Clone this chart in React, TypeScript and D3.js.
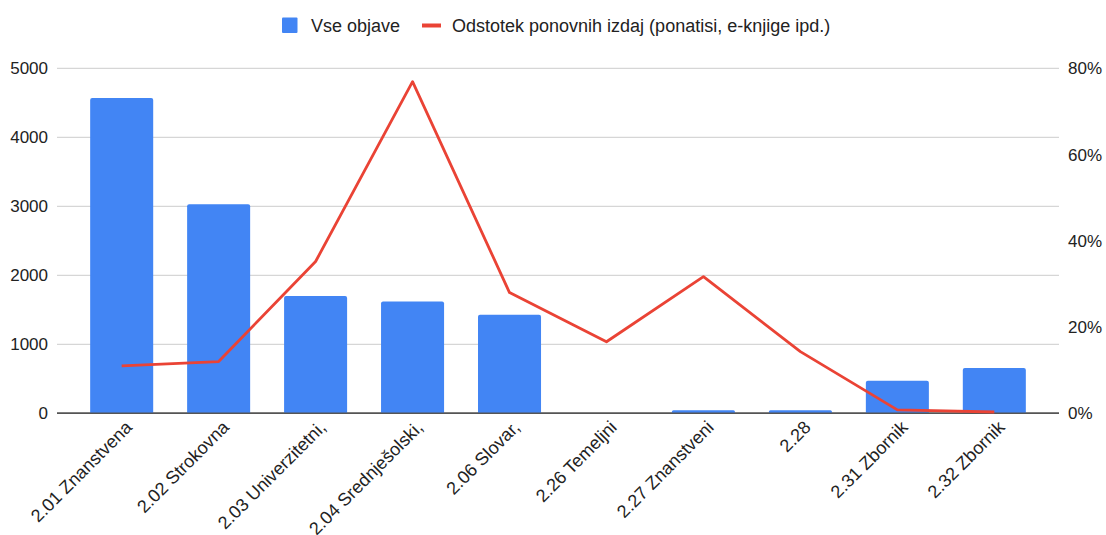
import React from "react";
import * as d3 from "d3";

const categories = [
  "2.01 Znanstvena",
  "2.02 Strokovna",
  "2.03 Univerzitetni,",
  "2.04 Srednješolski,",
  "2.06 Slovar,",
  "2.26 Temeljni",
  "2.27 Znanstveni",
  "2.28",
  "2.31 Zbornik",
  "2.32 Zbornik",
];
const allPublications = [4570, 3030, 1700, 1620, 1430, 0, 45, 45, 470, 655];
const reprintPercent = [11.0, 12.0, 35.2, 76.9, 28.0, 16.6, 31.7, 14.3, 0.8, 0.3];
const leftTicks = [0, 1000, 2000, 3000, 4000, 5000];
const rightTicks = [0, 20, 40, 60, 80];
const seriesNames = ["Vse objave", "Odstotek ponovnih izdaj (ponatisi, e-knjige ipd.)"];

const W = 1106;
const H = 535;
const BLUE = "#4285F4";
const RED = "#EA4335";
const FONT = "Arial, 'Liberation Sans', sans-serif";

export default function App() {
  const x = d3
    .scaleBand<string>()
    .domain(categories)
    .range([73.2, 1042.8])
    .paddingInner(0.35)
    .paddingOuter(0.175);
  const yL = d3.scaleLinear().domain([0, 5000]).range([413.3, 68.3]);
  const yR = d3.scaleLinear().domain([0, 80]).range([413.3, 68.3]);
  const gridX0 = 57;
  const gridX1 = 1059;

  const line = d3
    .line<number>()
    .x((_, i) => (x(categories[i]) as number) + x.bandwidth() / 2)
    .y((d) => yR(d));

  const barPath = (x0: number, w: number, yTop: number, yBot: number) => {
    const r = Math.min(2, (yBot - yTop) / 2);
    return `M${x0},${yBot}V${yTop + r}Q${x0},${yTop} ${x0 + r},${yTop}H${x0 + w - r}Q${x0 + w},${yTop} ${x0 + w},${yTop + r}V${yBot}Z`;
  };

  return (
    <svg
      width={W}
      height={H}
      style={{ position: "absolute", left: 0, top: 0, background: "#fff" }}
      fontFamily={FONT}
    >
      <rect width={W} height={H} fill="#fff" />
      {/* legend */}
      <rect x={282} y={17.5} width={15.5} height={15.5} fill={BLUE} rx={1} />
      <text x={311} y={25.5} dy="0.35em" fontSize={18} fill="#222">
        {seriesNames[0]}
      </text>
      <line x1={422} x2={441} y1={25.5} y2={25.5} stroke={RED} strokeWidth={4} />
      <text x={452} y={25.5} dy="0.35em" fontSize={18} fill="#222">
        {seriesNames[1]}
      </text>

      {/* gridlines */}
      {leftTicks.map((t) => (
        <line
          key={"g" + t}
          x1={gridX0}
          x2={gridX1}
          y1={yL(t)}
          y2={yL(t)}
          stroke={t === 0 ? "#555" : "#ccc"}
          strokeWidth={t === 0 ? 1.5 : 1}
        />
      ))}

      {/* bars */}
      {allPublications.map((v, i) =>
        v > 0 ? (
          <path
            key={"b" + i}
            d={barPath(x(categories[i]) as number, x.bandwidth(), yL(v), yL(0))}
            fill={BLUE}
          />
        ) : null
      )}
      <line x1={gridX0} x2={gridX1} y1={yL(0)} y2={yL(0)} stroke="#555" strokeWidth={1.5} />

      {/* line */}
      <path
        d={line(reprintPercent) || ""}
        fill="none"
        stroke={RED}
        strokeWidth={2.8}
        strokeLinejoin="round"
      />

      {/* left ticks */}
      {leftTicks.map((t) => (
        <text
          key={"l" + t}
          x={48}
          y={yL(t)}
          dy="0.35em"
          textAnchor="end"
          fontSize={17}
          fill="#222"
        >
          {t}
        </text>
      ))}
      {/* right ticks */}
      {rightTicks.map((t) => (
        <text
          key={"r" + t}
          x={1068}
          y={yR(t)}
          dy="0.35em"
          textAnchor="start"
          fontSize={17}
          fill="#222"
        >
          {t + "%"}
        </text>
      ))}

      {/* x labels */}
      {categories.map((c) => {
        const cx = (x(c) as number) + x.bandwidth() / 2 + 7;
        const cy = 424;
        return (
          <text
            key={"x" + c}
            transform={`translate(${cx},${cy}) rotate(-45)`}
            textAnchor="end"
            dy="0.35em"
            fontSize={18}
            fill="#222"
          >
            {c}
          </text>
        );
      })}
    </svg>
  );
}
